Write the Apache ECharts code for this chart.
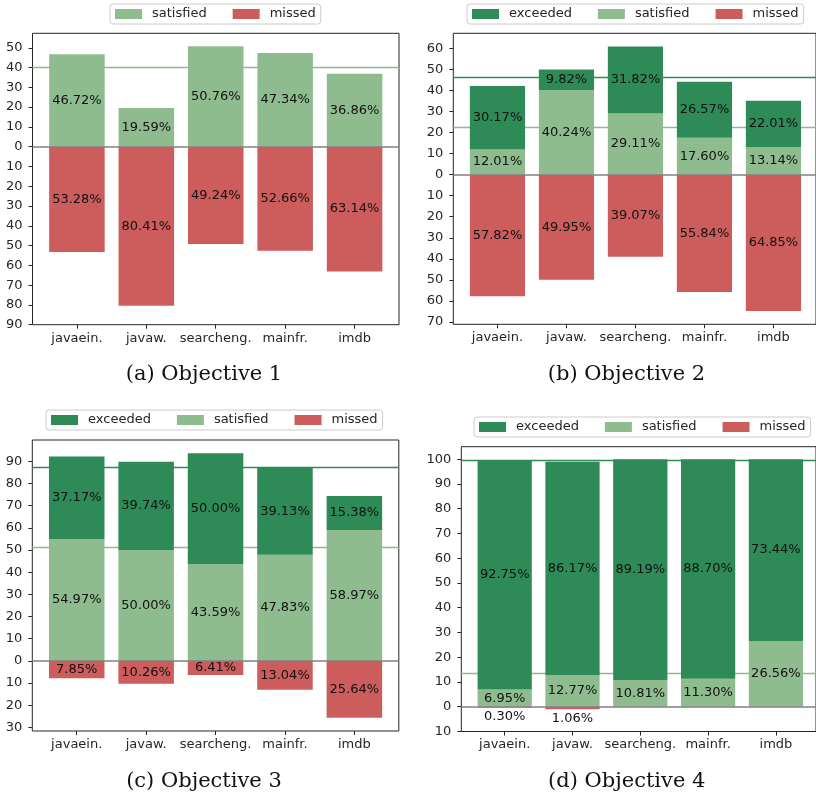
<!DOCTYPE html>
<html>
<head>
<meta charset="utf-8">
<script src="https://cdn.jsdelivr.net/npm/echarts@6/dist/echarts.min.js"></script>
<style>
  html, body { margin: 0; padding: 0; background: #ffffff; }
  #chart { width: 816px; height: 796px; }
</style>
</head>
<body>
<div id="chart"></div>
<script>
// Categories shared by all four panels
const categories = ['javaein.', 'javaw.', 'searcheng.', 'mainfr.', 'imdb'];

// Objective 1 (no "exceeded" level)
const obj1Satisfied = [46.72, 19.59, 50.76, 47.34, 36.86];
const obj1Missed    = [53.28, 80.41, 49.24, 52.66, 63.14];
const obj1Ticks     = [-90, -80, -70, -60, -50, -40, -30, -20, -10, 0, 10, 20, 30, 40, 50];

// Objective 2
const obj2Exceeded  = [30.17, 9.82, 31.82, 26.57, 22.01];
const obj2Satisfied = [12.01, 40.24, 29.11, 17.60, 13.14];
const obj2Missed    = [57.82, 49.95, 39.07, 55.84, 64.85];
const obj2Ticks     = [-70, -60, -50, -40, -30, -20, -10, 0, 10, 20, 30, 40, 50, 60];

// Objective 3
const obj3Exceeded  = [37.17, 39.74, 50.00, 39.13, 15.38];
const obj3Satisfied = [54.97, 50.00, 43.59, 47.83, 58.97];
const obj3Missed    = [7.85, 10.26, 6.41, 13.04, 25.64];
const obj3Ticks     = [-30, -20, -10, 0, 10, 20, 30, 40, 50, 60, 70, 80, 90];

// Objective 4
const obj4Exceeded  = [92.75, 86.17, 89.19, 88.70, 73.44];
const obj4Satisfied = [6.95, 12.77, 10.81, 11.30, 26.56];
const obj4Missed    = [0.30, 1.06, 0, 0, 0];
const obj4Ticks     = [-10, 0, 10, 20, 30, 40, 50, 60, 70, 80, 90, 100];

const COLORS = { exceeded: '#2e8b57', satisfied: '#8fbc8f', missed: '#cd5c5c' };
const FONT = 'DejaVu Sans';
const INK = '#262626';

const panels = [
  { caption: '(a) Objective 1', exceeded: null, satisfied: obj1Satisfied, missed: obj1Missed, ticks: obj1Ticks,
    frame: { left: 32.5, top: 33.3, width: 366.5, height: 291.4 }, legend: { left: 110, top: 4 },
    captionAt: [204, 375], missedLabel: 'inside' },
  { caption: '(b) Objective 2', exceeded: obj2Exceeded, satisfied: obj2Satisfied, missed: obj2Missed, ticks: obj2Ticks,
    frame: { left: 453.3, top: 33.3, width: 364.3, height: 291 }, legend: { left: 467, top: 4 },
    captionAt: [626.5, 375], missedLabel: 'inside' },
  { caption: '(c) Objective 3', exceeded: obj3Exceeded, satisfied: obj3Satisfied, missed: obj3Missed, ticks: obj3Ticks,
    frame: { left: 32.3, top: 440, width: 366.5, height: 291 }, legend: { left: 46, top: 410 },
    captionAt: [204, 782], missedLabel: 'inside' },
  { caption: '(d) Objective 4', exceeded: obj4Exceeded, satisfied: obj4Satisfied, missed: obj4Missed, ticks: obj4Ticks,
    frame: { left: 461.3, top: 446.7, width: 358, height: 284.8 }, legend: { left: 474, top: 417 },
    captionAt: [626.7, 782], missedLabel: 'bottom' }
];

const mean = arr => arr.reduce((s, v) => s + v, 0) / arr.length;
const BAR_FRAC = 0.8;          // bar width as a fraction of a category slot
const X_MARGIN = 0.05;         // padding on each side of the bar extent

const grids = [], xAxes = [], yAxes = [], series = [], legends = [], graphics = [];

function segment(name, values, axisIdx, stackId, sign, labelPos) {
  return {
    type: 'bar', name, xAxisIndex: axisIdx, yAxisIndex: axisIdx, stack: stackId,
    barWidth: (BAR_FRAC * 100) + '%', z: 2,
    itemStyle: { color: COLORS[name] },
    data: values.map(v => sign * v),
    label: {
      show: true, position: labelPos, distance: 3,
      color: '#111111', fontSize: 13, fontFamily: FONT,
      formatter: prm => values[prm.dataIndex] > 0 ? values[prm.dataIndex].toFixed(2) + '%' : ''
    }
  };
}

panels.forEach((p, k) => {
  // y limits: 5% padding around the stacked data, widened to the tick range
  const totals = categories.map((_, i) => p.satisfied[i] + (p.exceeded ? p.exceeded[i] : 0));
  const lows = p.missed.map(v => -v);
  const dMax = Math.max(...totals), dMin = Math.min(...lows);
  const pad = 0.05 * (dMax - dMin);
  const yMin = Math.min(dMin - pad, p.ticks[0]);
  const yMax = Math.max(dMax + pad, p.ticks[p.ticks.length - 1]);

  // x layout: the category bands sit inside the frame with extra side padding
  const n = categories.length;
  const barSpan = (n - 1) + BAR_FRAC;
  const unitsWide = barSpan * (1 + 2 * X_MARGIN);
  const unit = p.frame.width / unitsWide;
  const inset = (unitsWide - n) / 2 * unit;

  const fIdx = 2 * k, dIdx = 2 * k + 1;

  // frame grid: border plus the full-width reference lines
  grids.push(Object.assign({ show: true, borderColor: INK, borderWidth: 1, backgroundColor: 'transparent', z: 0 }, p.frame));
  // data grid: the five category bands
  grids.push({ show: false, left: p.frame.left + inset, top: p.frame.top, width: n * unit, height: p.frame.height });

  xAxes.push({ gridIndex: fIdx, type: 'value', min: 0, max: 1, show: false });
  yAxes.push({ gridIndex: fIdx, type: 'value', min: yMin, max: yMax, show: false });

  xAxes.push({
    gridIndex: dIdx, type: 'category', data: categories, boundaryGap: true,
    axisLine: { show: false, onZero: false }, splitLine: { show: false },
    axisTick: { show: true, alignWithLabel: true, length: 4, lineStyle: { color: INK, width: 1 } },
    axisLabel: { margin: 7, color: INK, fontSize: 13, fontFamily: FONT, interval: 0 }
  });
  yAxes.push({
    gridIndex: dIdx, type: 'value', min: yMin, max: yMax, offset: inset,
    axisLine: { show: false, onZero: false }, splitLine: { show: false },
    axisTick: { show: true, length: 4, customValues: p.ticks, lineStyle: { color: INK, width: 1 } },
    axisLabel: { customValues: p.ticks, margin: 10, color: INK, fontSize: 13, fontFamily: FONT,
                 formatter: v => String(Math.abs(Math.round(v))) }
  });

  const stackId = 'objective' + k;
  series.push(segment('satisfied', p.satisfied, dIdx, stackId, 1, 'inside'));
  if (p.exceeded) series.push(segment('exceeded', p.exceeded, dIdx, stackId, 1, 'inside'));
  series.push(segment('missed', p.missed, dIdx, stackId, -1, p.missedLabel));

  // mean reference lines, beneath the bars
  const refs = [];
  if (p.exceeded) refs.push({ value: mean(totals), color: COLORS.exceeded });
  refs.push({ value: mean(p.satisfied), color: COLORS.satisfied });
  series.push({
    type: 'line', name: 'mean' + k, xAxisIndex: fIdx, yAxisIndex: fIdx, data: [], silent: true, z: 1,
    markLine: {
      z: 1, silent: true, symbol: 'none', label: { show: false }, animation: false,
      data: refs.map(r => ({ yAxis: r.value, lineStyle: { color: r.color, width: 1.3, type: 'solid' } }))
    }
  });
  // zero baseline, over the bars
  series.push({
    type: 'line', name: 'zero' + k, xAxisIndex: fIdx, yAxisIndex: fIdx, data: [], silent: true, z: 10,
    markLine: {
      z: 10, silent: true, symbol: 'none', label: { show: false }, animation: false,
      data: [{ yAxis: 0 }],
      lineStyle: { color: '#808080', width: 1.5, type: 'solid' }
    }
  });

  legends.push({
    data: p.exceeded ? ['exceeded', 'satisfied', 'missed'] : ['satisfied', 'missed'],
    left: p.legend.left, top: p.legend.top, orient: 'horizontal',
    icon: 'rect', itemWidth: 27, itemHeight: 10, itemGap: 26,
    padding: [3.5, 5], borderColor: '#cccccc', borderWidth: 1, borderRadius: 3,
    backgroundColor: '#ffffff', selectedMode: false,
    textStyle: { fontSize: 13, fontFamily: FONT, color: INK, padding: [0, 0, 0, 5] }
  });

  graphics.push({
    type: 'text', x: p.captionAt[0], y: p.captionAt[1],
    style: { text: p.caption, font: '21px "DejaVu Serif"', fill: '#111111', align: 'center', verticalAlign: 'middle' }
  });
});

const chart = echarts.init(document.getElementById('chart'), null, { renderer: 'canvas' });
chart.setOption({
  animation: false,
  backgroundColor: '#ffffff',
  textStyle: { fontFamily: FONT },
  grid: grids,
  xAxis: xAxes,
  yAxis: yAxes,
  legend: legends,
  series: series,
  graphic: graphics
});
</script>
</body>
</html>
